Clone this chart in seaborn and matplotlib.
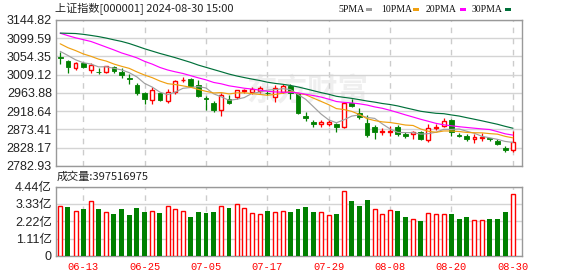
import numpy as np
import pandas as pd
import matplotlib
matplotlib.use('Agg')
import matplotlib.pyplot as plt
import seaborn as sns
from matplotlib.patches import Rectangle

# ---------------- data ----------------
dates = ['06-07','06-11','06-12','06-13','06-14','06-17','06-18','06-19','06-20','06-21',
         '06-24','06-25','06-26','06-27','06-28','07-01','07-02','07-03','07-04','07-05',
         '07-08','07-09','07-10','07-11','07-12','07-15','07-16','07-17','07-18','07-19',
         '07-22','07-23','07-24','07-25','07-26','07-29','07-30','07-31','08-01','08-02',
         '08-05','08-06','08-07','08-08','08-09','08-12','08-13','08-14','08-15','08-16',
         '08-19','08-20','08-21','08-22','08-23','08-26','08-27','08-28','08-29','08-30']

opens = [3052, 3042, 3027, 3037, 3022, 3017, 3017, 3029, 3017, 3000,
         2984, 2965, 2947, 2963, 2943, 2967, 2996, 2998, 2984, 2952,
         2940, 2922, 2950, 2955, 2968, 2967, 2968, 2965, 2953, 2967,
         2980, 2963, 2908, 2892, 2886, 2888, 2888, 2880, 2938, 2914,
         2889, 2880, 2866, 2866, 2880, 2862, 2862, 2866, 2847, 2878,
         2882, 2897, 2860, 2858, 2849, 2853, 2852, 2845, 2827, 2822]
highs = [3065, 3046, 3041, 3041, 3037, 3026, 3032, 3031, 3025, 3010,
         2988, 2967, 2979, 2965, 2974, 2997, 3004, 3000, 2995, 2956,
         2944, 2963, 2958, 2972, 2975, 2978, 2980, 2970, 2984, 2987,
         2985, 2965, 2918, 2896, 2898, 2896, 2890, 2940, 2950, 2926,
         2910, 2884, 2877, 2882, 2884, 2866, 2869, 2869, 2886, 2888,
         2903, 2899, 2864, 2862, 2863, 2865, 2853, 2849, 2832, 2870]
lows = [3036, 3014, 3022, 3025, 3013, 3010, 3013, 3014, 3002, 2986,
        2960, 2937, 2936, 2943, 2940, 2962, 2992, 2980, 2955, 2922,
        2918, 2907, 2936, 2950, 2964, 2962, 2965, 2958, 2942, 2963,
        2950, 2913, 2895, 2880, 2880, 2882, 2867, 2878, 2929, 2900,
        2855, 2850, 2860, 2857, 2858, 2853, 2849, 2848, 2843, 2873,
        2880, 2858, 2854, 2846, 2840, 2846, 2845, 2834, 2818, 2818]
closes = [3051.28, 3028.05, 3037.47, 3028.92, 3032.63, 3015.89, 3030.25, 3018.05, 3008.90, 2998.14,
          2963.10, 2950.00, 2972.53, 2945.85, 2967.40, 2994.73, 2997.01, 2982.38, 2957.57, 2949.93,
          2922.45, 2959.37, 2939.36, 2970.39, 2971.30, 2974.01, 2976.30, 2962.76, 2977.13, 2982.31,
          2964.22, 2915.37, 2901.95, 2886.43, 2890.90, 2891.85, 2879.30, 2938.75, 2932.39, 2905.34,
          2860.70, 2867.28, 2869.90, 2870.85, 2862.19, 2858.20, 2867.95, 2850.65, 2877.36, 2879.43,
          2893.67, 2866.66, 2856.58, 2848.77, 2854.37, 2855.52, 2848.73, 2837.43, 2823.11, 2842.21]
# closes of the 29 sessions before 06-07 (needed for the moving averages)
prior_closes = [3044.82, 3052.90, 3088.64, 3113.04, 3104.82, 3140.72, 3147.74, 3128.48, 3154.32, 3154.55,
                3148.02, 3145.77, 3119.90, 3122.40, 3154.03, 3171.15, 3157.97, 3158.54, 3116.39, 3088.87,
                3124.04, 3109.57, 3111.02, 3091.68, 3086.81, 3078.49, 3091.20, 3065.40, 3048.79]
# volume in 亿 (hundred million)
volumes = [3.19, 3.15, 2.88, 3.02, 3.51, 3.02, 2.79, 2.70, 3.02, 2.64,
           3.09, 2.83, 2.88, 2.77, 3.19, 2.98, 2.88, 2.49, 2.83, 2.77,
           2.83, 3.19, 3.09, 3.32, 3.05, 2.73, 2.68, 2.89, 2.81, 2.88,
           2.83, 3.00, 3.13, 2.83, 2.79, 2.62, 2.70, 4.13, 3.51, 3.19,
           3.58, 2.98, 2.68, 2.94, 2.88, 2.49, 2.34, 2.24, 2.75, 2.68,
           2.68, 2.68, 2.36, 2.49, 2.28, 2.28, 2.36, 2.36, 2.81, 3.97516975]

price_ticks = [2782.93, 2828.17, 2873.41, 2918.64, 2963.88, 3009.12, 3054.35, 3099.59, 3144.82]
vol_ticks = [0, 1.11, 2.22, 3.33, 4.44]
vol_tick_labels = ['0', '1.11亿', '2.22亿', '3.33亿', '4.44亿']
ma_periods = [5, 10, 20, 30]
ma_names = ['5PMA', '10PMA', '20PMA', '30PMA']
ma_colors = ['#a0a0a0', '#f0a010', '#ff00ff', '#00703a']
title = '上证指数[000001] 2024-08-30 15:00'
vol_title = '成交量:397516975'
watermark = '东方财富'

# ---------------- figure ----------------
sns.set_theme(style='white')
plt.rcParams['font.family'] = ['Liberation Sans', 'Noto Sans CJK SC']

W, H = 578, 276
fig = plt.figure(figsize=(W / 100, H / 100), dpi=100)
fx = lambda px: px / W
fy = lambda py: 1 - py / H

ax = fig.add_axes([fx(56), fy(166), fx(522) - fx(56), fy(20) - fy(166)])
axv = fig.add_axes([fx(56), fy(256), fx(522) - fx(56), fy(186.5) - fy(256)])

n = len(dates)
idx = np.arange(n)
RED = '#ff0000'
GREEN = '#008000'
grid_idx = [i for i in range(3, n, 8)]

df = pd.DataFrame({'i': idx, 'open': opens, 'high': highs, 'low': lows,
                   'close': closes, 'vol': volumes, 'date': dates})
all_closes = pd.Series(prior_closes + closes)
for p, name in zip(ma_periods, ma_names):
    df[name] = all_closes.rolling(p).mean().iloc[len(prior_closes):].to_numpy()

# watermark
ax.text(0.54, 0.52, watermark, transform=ax.transAxes, fontsize=22, fontweight='bold',
        color='#efefef', ha='center', va='center', zorder=0,
        family=['Noto Sans CJK SC'])

# candles
bw = 0.62
for r in df.itertuples():
    up = r.close >= r.open
    col = RED if up else GREEN
    top, bot = max(r.open, r.close), min(r.open, r.close)
    ax.vlines(r.i, r.low, bot, color=col, lw=0.9, zorder=3)
    ax.vlines(r.i, top, r.high, color=col, lw=0.9, zorder=3)
    h = max(top - bot, 0.4)
    if up:
        ax.bar(r.i, h, bottom=bot, width=bw - 0.12, facecolor='white', edgecolor=col,
               linewidth=1, zorder=4)
    else:
        ax.bar(r.i, h, bottom=bot, width=bw, color=col, linewidth=0.6, edgecolor=col, zorder=4)

for name, c in zip(ma_names, ma_colors):
    sns.lineplot(data=df, x='i', y=name, ax=ax, color=c, lw=0.85, legend=False, zorder=5)

ax.set_xlim(-0.55, 60.2)
ax.set_ylim(price_ticks[0], price_ticks[-1])
ax.set_yticks(price_ticks)
ax.set_yticklabels([f'{t:.2f}' for t in price_ticks])
ax.set_xticks(grid_idx)
ax.set_xticklabels([])
ax.set_xlabel('')
ax.set_ylabel('')
ax.yaxis.grid(True, color='#d4d4d4', lw=1, zorder=0)
ax.xaxis.grid(True, color='#cccccc', lw=1, linestyle=(0, (4, 4)), zorder=0)
ax.tick_params(length=0, pad=3, labelsize=9, labelcolor='#222222')
for s in ax.spines.values():
    s.set_color('#999999')
    s.set_linewidth(1)

# volume
prev = [prior_closes[-1]] + closes[:-1]
for i, (v, c, pc) in enumerate(zip(volumes, closes, prev)):
    if c >= pc:
        axv.bar(i, v, width=0.52, facecolor='white', edgecolor=RED, linewidth=1, zorder=3)
    else:
        axv.bar(i, v, width=0.64, color=GREEN, linewidth=0, zorder=3)
axv.set_xlim(-0.55, 60.2)
axv.set_ylim(0, 4.44)
axv.set_yticks(vol_ticks)
axv.set_yticklabels(vol_tick_labels)
axv.set_xticks(grid_idx)
axv.set_xticklabels([dates[i] for i in grid_idx], color=RED, fontsize=7.5,
                    family=['Liberation Mono'])
axv.yaxis.grid(True, color='#d4d4d4', lw=1, zorder=0)
axv.xaxis.grid(True, color='#cccccc', lw=1, linestyle=(0, (4, 4)), zorder=0)
axv.tick_params(axis='y', length=0, pad=3, labelsize=9, labelcolor='#222222')
axv.tick_params(axis='x', length=0, pad=4)
for s in axv.spines.values():
    s.set_color('#999999')
    s.set_linewidth(1)

# titles
fig.text(fx(55), fy(9), title, fontsize=8, ha='left', va='center', color='#222222',
         family=['Noto Sans CJK SC'])
fig.text(fx(57), fy(177), vol_title, fontsize=8, ha='left', va='center', color='#222222',
         family=['Noto Sans CJK SC'])

# legend
leg_x = [338, 381, 426, 472]
sq_x = [366, 413, 460, 505]
for name, c, lx, sx in zip(ma_names, ma_colors, leg_x, sq_x):
    fig.text(fx(lx), fy(9.5), name, fontsize=7, ha='left', va='center', color='#111111',
             family=['Liberation Serif'])
    fig.patches.append(Rectangle((fx(sx), fy(11)), fx(6), fy(8) - fy(11), transform=fig.transFigure,
                                 facecolor=c, edgecolor='none', figure=fig))

fig.savefig('out.png', dpi=100)
